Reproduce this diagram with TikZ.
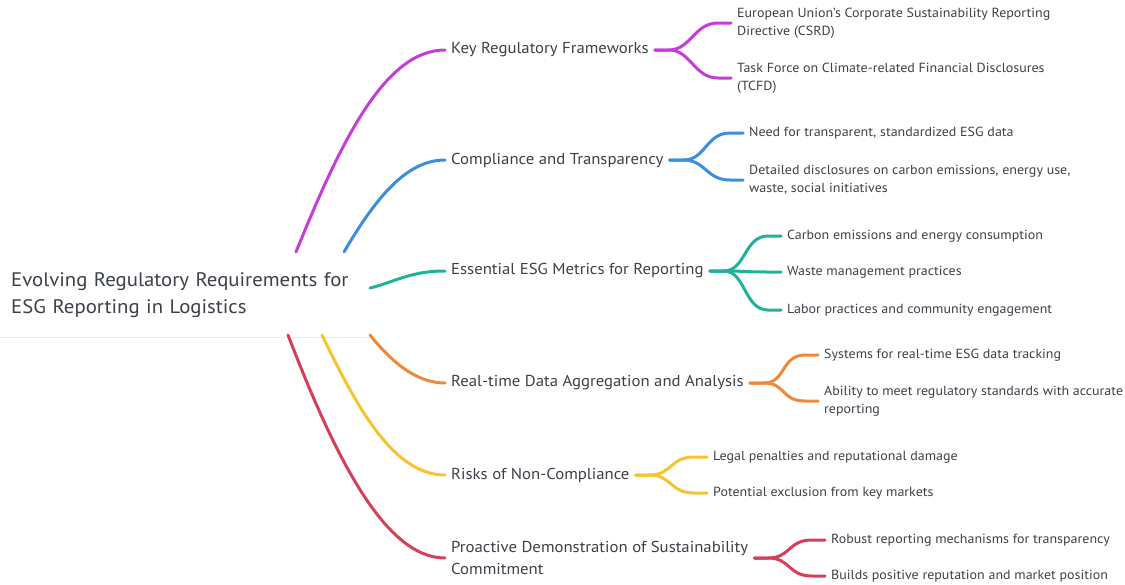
\documentclass[tikz,border=0pt]{standalone}
\usepackage{fontspec}
\setmainfont[FakeStretch=1.06]{PT Sans}
\usepackage{tikz}
\usetikzlibrary{positioning}

\definecolor{ink}{RGB}{60,64,72}
\definecolor{cpurple}{RGB}{197,60,216}
\definecolor{cblue}{RGB}{59,142,219}
\definecolor{cteal}{RGB}{31,178,154}
\definecolor{corange}{RGB}{237,137,59}
\definecolor{cyellow}{RGB}{246,196,48}
\definecolor{cred}{RGB}{212,64,90}

\begin{document}
\begin{tikzpicture}[x=1pt, y=-1pt,
    root/.style={rectangle, fill=white, anchor=north west, minimum height=85pt, text width=348pt, inner xsep=11pt, align=left, text=ink, font=\fontsize{19.6}{27}\selectfont},
    topic/.style={anchor=west, inner xsep=6pt, inner ysep=0pt, align=left, text=ink, font=\fontsize{15.8}{22}\selectfont},
    leaf/.style={anchor=west, inner xsep=6pt, inner ysep=0pt, align=left, text=ink, font=\fontsize{13.2}{18}\selectfont},
    link/.style={line width=3pt, line cap=round}
]
\useasboundingbox (0,0) rectangle (1125,584);

% Root
\node[root] (root) at (0,252) {Evolving Regulatory Requirements for\\ESG Reporting in Logistics};
\draw[black!7, line width=1pt] (root.south west) -- (root.south east);

\coordinate (r1) at (296,252);
\coordinate (r2) at (344,252);
\coordinate (r3) at (370,288);
\coordinate (r4) at (370,335);
\coordinate (r5) at (322,335);
\coordinate (r6) at (288,335);

% Topics
\node[topic] (k1) at (445,50)  {Key Regulatory Frameworks};
\node[topic] (k2) at (445,160) {Compliance and Transparency};
\node[topic] (k3) at (445,271) {Essential ESG Metrics for Reporting};
\node[topic] (k4) at (445,383) {Real-time Data Aggregation and Analysis};
\node[topic] (k5) at (445,475) {Risks of Non-Compliance};
\node[topic] (k6) at (445,558) {Proactive Demonstration of Sustainability\\Commitment};

% Leaves
\node[leaf] (c11) at (731,23)  {European Union's Corporate Sustainability Reporting\\Directive (CSRD)};
\node[leaf] (c12) at (731,78)  {Task Force on Climate-related Financial Disclosures\\(TCFD)};
\node[leaf] (c21) at (743,133) {Need for transparent, standardized ESG data};
\node[leaf] (c22) at (743,180) {Detailed disclosures on carbon emissions, energy use,\\waste, social initiatives};
\node[leaf] (c31) at (781,236) {Carbon emissions and energy consumption};
\node[leaf] (c32) at (781,272) {Waste management practices};
\node[leaf] (c33) at (781,310) {Labor practices and community engagement};
\node[leaf] (c41) at (818,355) {Systems for real-time ESG data tracking};
\node[leaf] (c42) at (818,401) {Ability to meet regulatory standards with accurate\\reporting};
\node[leaf] (c51) at (707,457) {Legal penalties and reputational damage};
\node[leaf] (c52) at (707,493) {Potential exclusion from key markets};
\node[leaf] (c61) at (825,540) {Robust reporting mechanisms for transparency};
\node[leaf] (c62) at (825,576) {Builds positive reputation and market position};

% Root to topics
\draw[link, cpurple] (r1) .. controls (341,141) and (385,50) .. (k1.west);
\draw[link, cblue]   (r2) .. controls (374,201) and (405,160) .. (k2.west);
\draw[link, cteal]   (r3) .. controls (395,282) and (410,271) .. (k3.west);
\draw[link, corange] (r4) .. controls (390,360) and (415,383) .. (k4.west);
\draw[link, cyellow] (r5) .. controls (359,412) and (395,475) .. (k5.west);
\draw[link, cred]    (r6) .. controls (335,457) and (385,558) .. (k6.west);

% Topics to leaves
\foreach \k/\c/\col in {k1/c11/cpurple, k1/c12/cpurple, k2/c21/cblue, k2/c22/cblue,
                        k3/c31/cteal, k3/c32/cteal, k3/c33/cteal, k4/c41/corange, k4/c42/corange,
                        k5/c51/cyellow, k5/c52/cyellow, k6/c61/cred, k6/c62/cred}
  \draw[link, \col] (\k.east) -- ++(14,0) .. controls +(22,0) and +(-24,0) .. ([xshift=-13pt]\c.west) -- (\c.west);

\end{tikzpicture}
\end{document}
